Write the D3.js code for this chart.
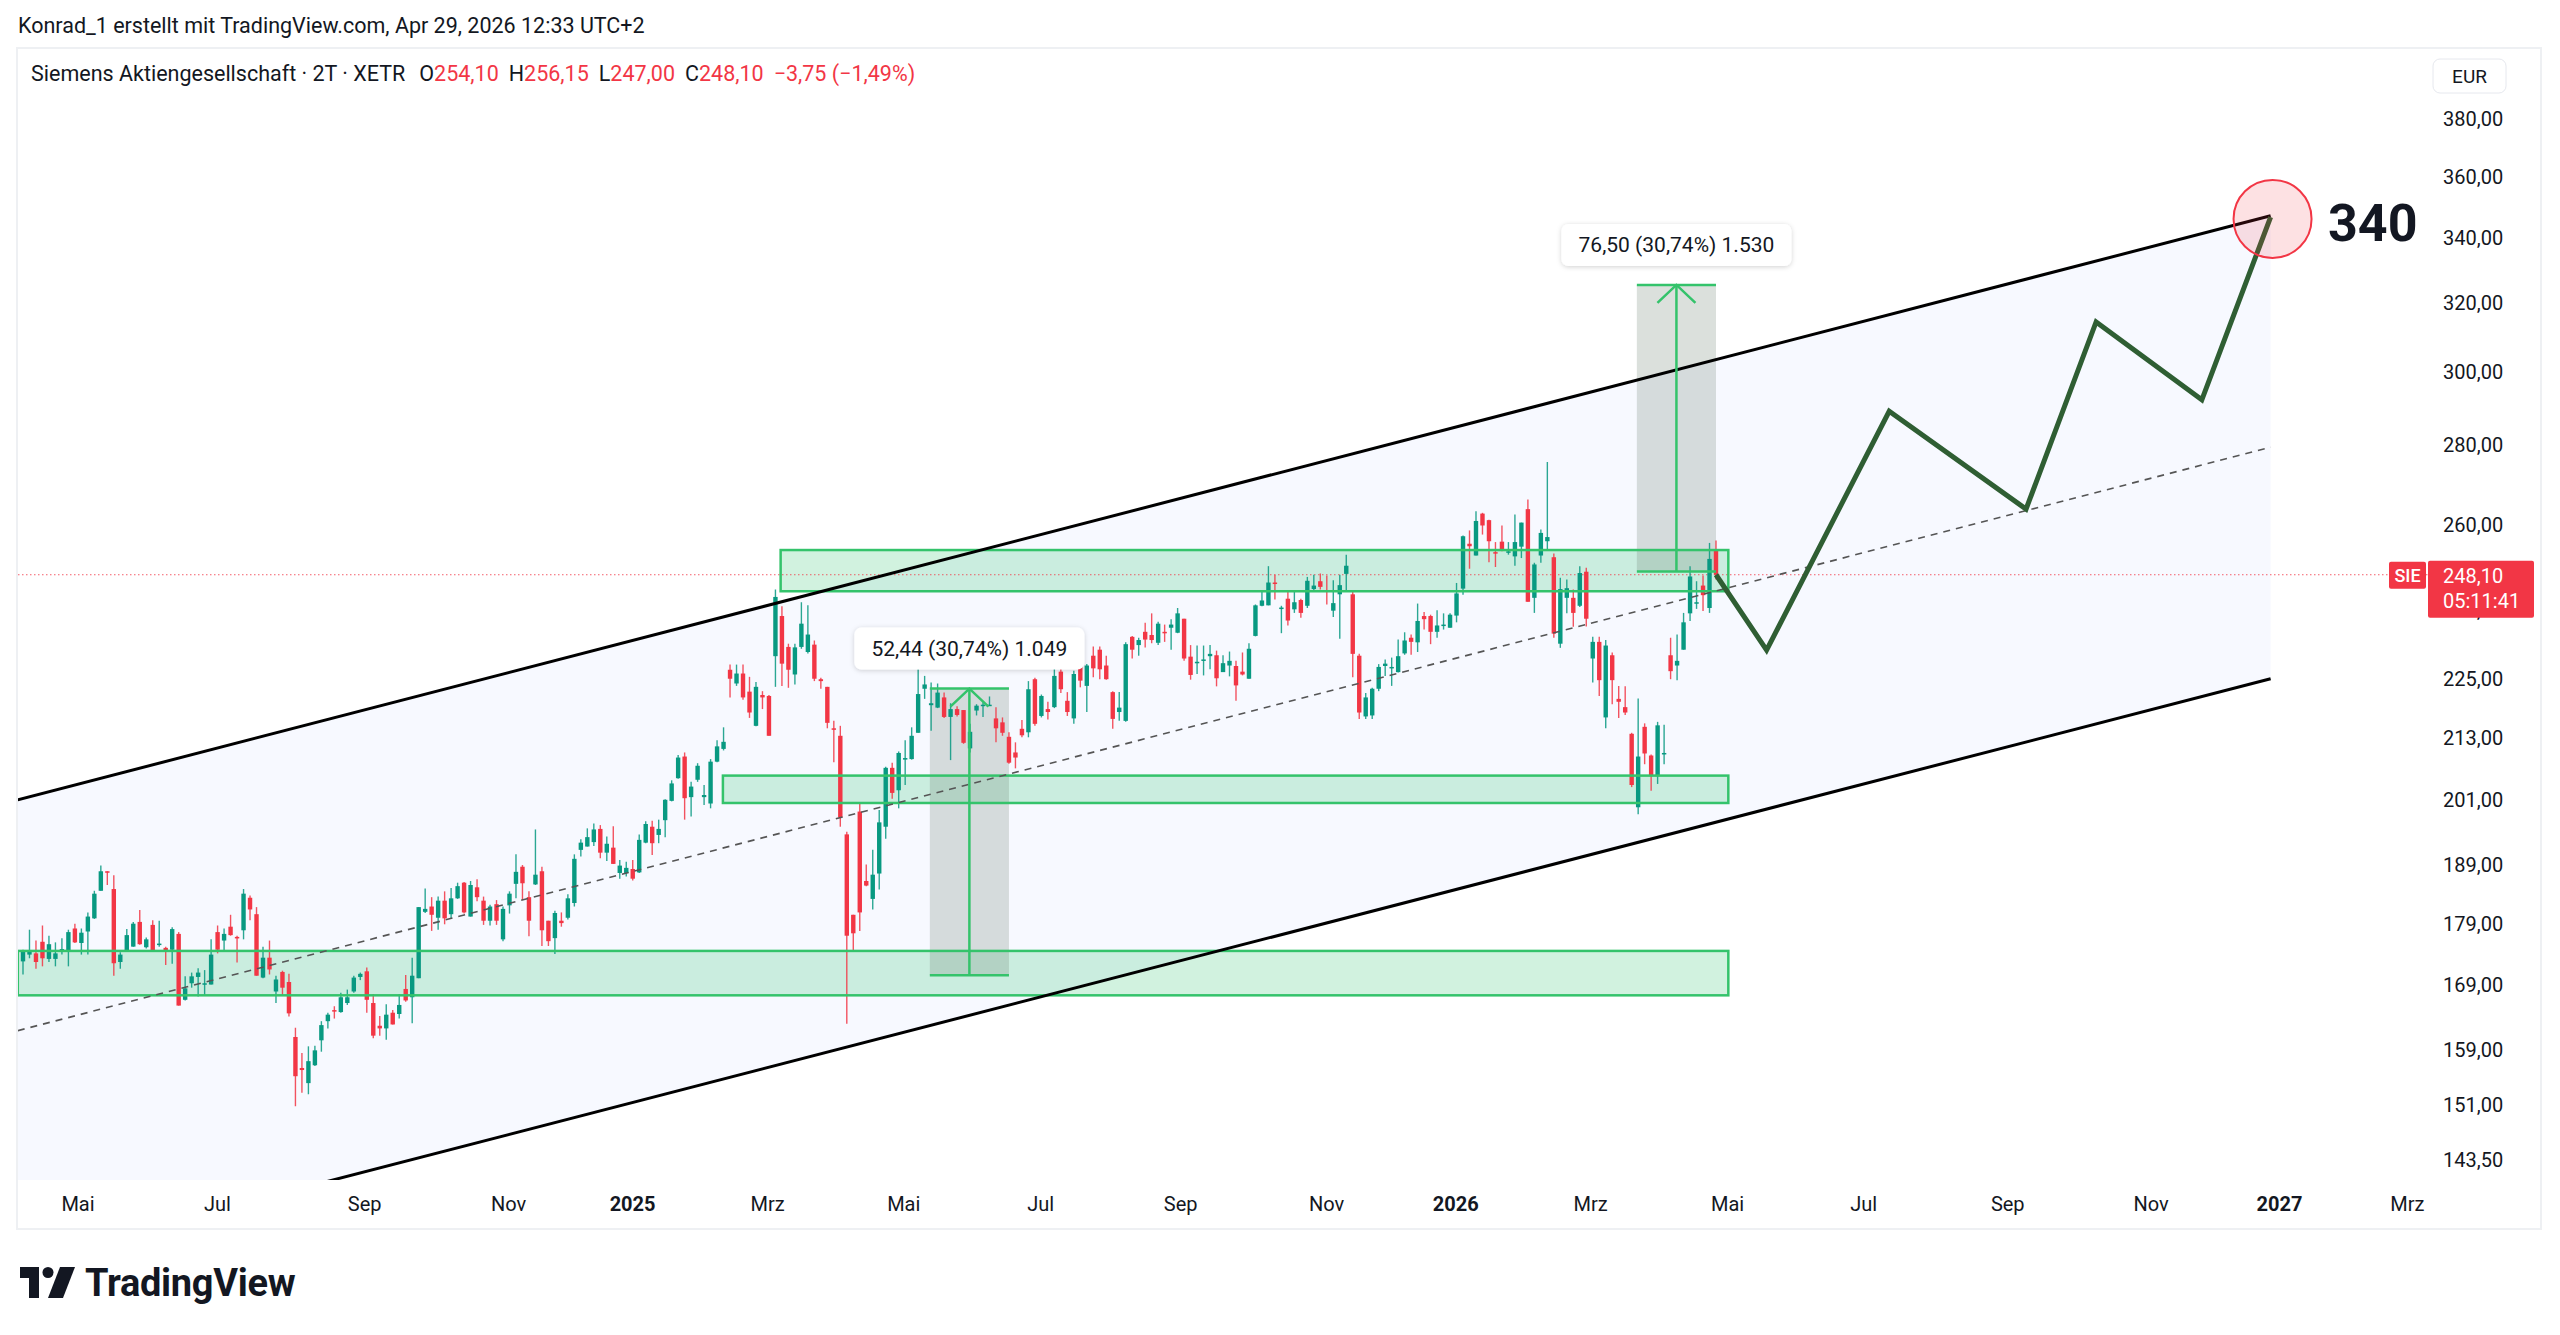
<!DOCTYPE html>
<html>
<head>
<meta charset="utf-8">
<script src="https://cdn.jsdelivr.net/npm/d3@7"></script>
<style>
  body { margin: 0; background: #ffffff; }
  svg text { font-family: Roboto, "Noto Sans", sans-serif; }
</style>
</head>
<body>
<svg id="chart" width="2560" height="1335"></svg>
<script>
// Siemens AG, 2-day candles (XETR)
const opens = [
  172.8, 173.9, 174.1, 176.0, 173.2, 173.2, 174.6, 174.6, 178.2, 175.8,
  177.7, 179.9, 184.6, 188.0, 184.9, 172.7, 174.4, 175.2, 179.3, 175.1,
  178.8, 175.5, 175.0, 174.7, 177.3, 166.7, 169.3, 170.3, 169.2, 169.1,
  177.6, 176.2, 178.5, 176.8, 177.9, 183.4, 180.6, 170.2, 173.4, 168.0,
  171.1, 169.5, 161.0, 156.4, 154.2, 156.8, 160.5, 163.4, 165.1, 164.8,
  166.2, 168.0, 170.3, 171.2, 166.2, 162.7, 162.3, 164.7, 164.5, 168.4,
  167.1, 170.1, 181.0, 181.9, 180.0, 182.9, 180.6, 183.3, 186.0, 180.2,
  185.2, 182.9, 179.5, 182.3, 176.4, 182.1, 185.8, 188.8, 183.5, 185.7,
  188.0, 179.5, 176.6, 179.5, 180.0, 182.5, 191.8, 192.4, 193.2, 195.6,
  191.3, 192.2, 187.7, 187.7, 188.4, 187.8, 193.1, 196.0, 194.5, 197.2,
  200.8, 205.1, 209.3, 201.5, 204.8, 201.5, 200.3, 208.3, 210.8, 227.0,
  224.1, 226.2, 222.4, 215.4, 221.7, 221.5, 229.9, 238.7, 231.9, 226.0,
  231.9, 230.8, 232.4, 225.0, 223.4, 214.9, 213.4, 194.6, 180.5, 198.8,
  186.3, 183.2, 187.6, 196.0, 207.1, 202.8, 208.7, 208.8, 214.0, 223.0,
  219.6, 219.1, 221.2, 217.2, 218.8, 218.6, 210.9, 218.5, 219.6, 219.6,
  216.9, 216.1, 213.2, 210.1, 214.8, 214.1, 225.0, 217.4, 218.8, 219.2,
  226.6, 220.5, 216.9, 228.0, 223.6, 230.0, 231.3, 227.9, 222.3, 218.2,
  216.4, 234.1, 232.3, 235.2, 234.5, 232.8, 235.2, 236.1, 235.0, 238.1,
  229.8, 228.6, 229.0, 229.9, 230.1, 226.5, 227.9, 227.8, 226.6, 225.1,
  234.3, 241.0, 241.1, 246.3, 240.5, 242.6, 240.2, 242.3, 241.0, 244.8,
  246.6, 244.5, 239.9, 243.6, 248.3, 243.6, 230.0, 217.3, 217.5, 223.0,
  227.8, 227.5, 226.5, 230.5, 233.9, 232.9, 238.7, 238.7, 235.2, 236.6,
  236.1, 238.8, 244.9, 255.4, 252.6, 262.7, 261.1, 253.4, 255.9, 253.5,
  252.4, 254.7, 263.8, 242.8, 252.6, 256.0, 252.2, 232.6, 242.8, 242.8,
  241.0, 248.8, 229.4, 233.0, 217.1, 230.1, 220.9, 219.2, 213.8, 199.6,
  215.2, 209.5, 205.5, 209.8, 230.1, 227.9, 231.3, 239.3, 241.6, 245.6,
  240.5, 254.1
];
const highs = [
  174.7, 178.0, 176.2, 178.7, 177.0, 175.9, 176.6, 178.0, 179.0, 178.2,
  180.9, 184.6, 189.0, 188.0, 187.3, 174.3, 178.1, 179.3, 181.3, 176.7,
  179.6, 179.5, 175.2, 178.4, 177.6, 170.4, 171.0, 171.7, 171.4, 176.4,
  178.7, 178.2, 180.5, 177.0, 184.9, 183.8, 181.8, 175.2, 176.2, 170.5,
  171.3, 170.8, 162.4, 158.6, 159.6, 159.7, 163.4, 164.7, 165.7, 167.8,
  168.3, 170.5, 171.0, 171.8, 167.6, 164.2, 166.0, 165.1, 167.6, 170.6,
  173.4, 181.8, 185.0, 183.5, 183.6, 184.5, 185.1, 186.0, 186.1, 186.3,
  186.6, 183.6, 182.2, 183.0, 181.9, 184.5, 191.0, 189.1, 184.5, 195.5,
  188.8, 179.5, 181.2, 180.9, 184.0, 191.0, 193.7, 195.7, 196.6, 196.3,
  194.2, 196.1, 190.0, 189.7, 190.0, 194.6, 197.0, 197.1, 197.3, 201.1,
  204.7, 209.6, 210.1, 204.4, 208.0, 203.8, 208.8, 212.5, 215.1, 228.1,
  228.1, 228.1, 225.5, 224.4, 222.5, 221.7, 244.7, 240.9, 232.6, 232.6,
  241.8, 241.1, 233.3, 225.3, 223.4, 216.4, 215.4, 195.1, 180.5, 200.3,
  189.2, 191.8, 199.1, 207.3, 208.1, 210.3, 212.5, 215.1, 227.1, 225.7,
  224.3, 224.1, 222.2, 220.0, 219.4, 218.6, 215.8, 219.8, 220.2, 221.4,
  219.2, 217.1, 214.1, 212.1, 216.6, 224.6, 225.3, 221.8, 220.3, 227.5,
  228.0, 222.3, 226.8, 228.8, 228.2, 232.0, 232.0, 230.0, 222.5, 222.3,
  232.9, 234.3, 233.9, 237.2, 239.3, 237.4, 236.8, 238.0, 240.5, 238.1,
  232.3, 232.2, 232.2, 232.3, 231.1, 230.1, 230.9, 228.9, 230.7, 232.7,
  241.3, 244.1, 250.1, 248.1, 241.0, 244.3, 244.5, 242.6, 247.6, 248.1,
  248.4, 247.9, 246.8, 248.1, 252.8, 244.3, 230.4, 222.1, 223.2, 228.2,
  229.2, 229.6, 233.5, 235.1, 234.6, 241.5, 239.6, 239.0, 240.0, 239.3,
  239.3, 246.2, 257.4, 258.6, 263.3, 262.9, 261.2, 255.8, 259.8, 255.8,
  262.5, 260.5, 266.2, 250.9, 258.8, 275.7, 253.1, 247.4, 247.0, 244.7,
  250.1, 249.7, 234.1, 234.1, 233.4, 230.7, 223.6, 223.5, 214.0, 221.0,
  215.9, 209.7, 216.2, 215.6, 233.9, 234.6, 239.4, 250.1, 246.6, 247.9,
  255.6, 256.15
];
const lows = [
  170.7, 173.3, 171.6, 172.0, 172.7, 172.0, 173.9, 172.0, 175.8, 173.9,
  173.9, 179.8, 184.6, 185.6, 170.5, 171.6, 174.4, 175.2, 175.5, 174.9,
  174.4, 175.2, 172.2, 172.4, 165.8, 166.6, 168.6, 167.2, 167.3, 169.1,
  174.1, 174.4, 177.0, 172.6, 176.4, 179.6, 170.5, 170.1, 170.7, 166.2,
  167.4, 164.1, 150.9, 152.8, 152.6, 156.7, 158.8, 162.3, 163.8, 164.7,
  165.9, 167.8, 169.8, 164.7, 160.8, 161.2, 160.6, 162.9, 163.8, 166.4,
  163.1, 170.1, 180.8, 177.8, 178.0, 178.9, 179.8, 183.2, 180.7, 180.2,
  182.8, 178.8, 178.7, 178.8, 176.1, 180.7, 183.3, 183.0, 176.9, 185.6,
  175.3, 175.3, 174.0, 178.5, 179.7, 181.9, 190.6, 192.4, 192.5, 190.3,
  189.8, 189.3, 186.7, 187.1, 186.4, 187.7, 193.0, 190.9, 193.0, 194.1,
  200.7, 205.0, 197.3, 197.9, 204.4, 200.0, 199.4, 208.2, 210.5, 221.2,
  223.6, 220.7, 217.0, 215.3, 218.8, 213.4, 223.4, 223.6, 223.2, 223.9,
  231.5, 230.5, 224.6, 223.0, 214.9, 208.2, 196.0, 163.0, 174.5, 177.8,
  185.4, 181.4, 184.8, 193.8, 201.2, 199.4, 203.8, 208.7, 214.0, 220.9,
  214.4, 219.0, 217.0, 208.6, 217.3, 211.8, 210.1, 217.5, 217.2, 219.5,
  212.1, 213.4, 207.9, 207.0, 213.1, 213.1, 215.4, 217.1, 216.7, 219.0,
  222.1, 217.4, 215.8, 223.3, 218.2, 225.4, 225.0, 224.9, 214.8, 216.4,
  216.2, 229.4, 230.0, 231.8, 232.7, 232.3, 233.0, 231.3, 234.9, 228.9,
  224.9, 226.1, 225.8, 227.1, 223.5, 226.5, 225.6, 220.5, 225.8, 225.1,
  234.2, 240.9, 241.1, 242.4, 234.9, 236.6, 239.4, 238.3, 240.5, 244.5,
  244.7, 241.3, 238.5, 233.7, 244.5, 225.4, 216.8, 216.8, 216.8, 222.5,
  225.7, 223.6, 226.4, 230.2, 230.2, 230.8, 235.7, 232.5, 233.9, 235.7,
  236.1, 237.3, 243.5, 249.5, 252.6, 257.6, 251.0, 249.9, 253.6, 252.8,
  250.2, 252.0, 241.9, 239.4, 250.9, 254.0, 233.9, 231.7, 239.3, 236.3,
  240.7, 236.4, 224.3, 221.5, 214.9, 219.8, 217.0, 217.6, 203.4, 198.3,
  207.8, 202.7, 204.0, 207.8, 225.0, 224.8, 231.3, 237.6, 240.3, 239.8,
  239.4, 247.0
];
const closes = [
  174.4, 174.4, 172.7, 173.3, 175.6, 174.1, 174.8, 177.6, 175.9, 177.5,
  180.2, 184.1, 188.0, 187.8, 172.5, 173.9, 177.1, 179.0, 175.6, 176.4,
  174.4, 175.7, 174.5, 178.1, 165.8, 168.5, 170.4, 171.0, 169.3, 173.9,
  174.7, 177.3, 177.1, 176.6, 184.1, 181.4, 170.5, 173.4, 171.5, 169.9,
  168.6, 164.6, 155.2, 156.1, 157.4, 159.0, 162.8, 164.4, 164.9, 167.1,
  167.1, 170.2, 170.8, 166.7, 161.2, 162.3, 164.4, 162.9, 165.9, 166.6,
  170.5, 181.8, 181.5, 180.5, 182.9, 179.9, 183.3, 185.4, 180.9, 185.6,
  183.5, 179.5, 181.9, 179.5, 181.5, 184.1, 187.9, 185.9, 179.5, 187.4,
  177.9, 176.1, 180.8, 179.1, 183.3, 190.2, 193.1, 194.1, 195.5, 191.3,
  192.9, 189.3, 189.0, 188.6, 186.7, 193.6, 196.5, 193.0, 195.6, 201.0,
  204.1, 209.1, 201.3, 203.5, 207.5, 201.9, 208.3, 211.3, 212.2, 225.1,
  226.2, 221.2, 218.1, 223.4, 221.2, 213.4, 243.0, 228.3, 227.0, 231.8,
  237.0, 234.6, 225.1, 224.6, 216.0, 214.6, 197.7, 177.0, 177.4, 180.9,
  185.5, 187.4, 196.8, 207.1, 202.3, 210.0, 209.0, 213.4, 221.9, 223.9,
  220.0, 222.2, 217.2, 218.8, 217.6, 212.0, 214.2, 219.5, 219.7, 219.7,
  214.9, 214.0, 208.1, 209.1, 213.5, 222.9, 215.8, 221.5, 218.2, 225.7,
  222.9, 218.2, 226.1, 224.7, 227.9, 227.3, 227.1, 225.0, 216.8, 219.1,
  232.5, 231.3, 233.4, 233.5, 233.4, 237.0, 234.9, 236.8, 239.3, 229.4,
  225.9, 228.7, 229.2, 230.4, 225.2, 228.4, 228.9, 223.7, 226.0, 231.5,
  241.1, 242.2, 246.3, 246.0, 240.6, 237.7, 241.8, 239.4, 246.7, 245.6,
  245.3, 244.2, 241.6, 245.7, 250.2, 230.4, 218.1, 221.2, 223.0, 227.6,
  228.3, 227.6, 229.9, 233.3, 233.0, 237.6, 238.0, 235.2, 236.6, 236.8,
  239.0, 243.8, 257.2, 254.8, 260.9, 259.8, 256.0, 253.1, 254.0, 253.6,
  255.8, 260.5, 241.9, 250.5, 258.0, 257.0, 234.8, 244.8, 245.0, 239.4,
  248.5, 238.1, 233.0, 224.8, 232.2, 224.8, 220.3, 218.1, 203.8, 209.3,
  209.9, 205.5, 215.5, 210.0, 226.7, 228.9, 237.3, 247.7, 241.8, 243.4,
  251.8, 248.1
];

// price axis and time axis
const priceTicks = [380, 360, 340, 320, 300, 280, 260, 240, 225, 213, 201, 189, 179, 169, 159, 151, 143.5];
const timeLabels = ["Mai", "Jul", "Sep", "Nov", "2025", "Mrz", "Mai", "Jul", "Sep", "Nov",
                    "2026", "Mrz", "Mai", "Jul", "Sep", "Nov", "2027", "Mrz"];
const timeBars = [8.4, 29.9, 52.6, 74.8, 93.9, 114.7, 135.7, 156.8, 178.4, 200.9,
                  220.8, 241.6, 262.7, 283.7, 305.9, 328.0, 347.8, 367.5];

// drawings: parallel channel (bar, price)
const channelBars = [-0.8, 346.5];
const channelUpper = [201.0, 347.1];
const channelLower = [130.5, 225.1];

// horizontal zones
const zoneFrom = [116.8, 107.9, -0.8];
const zoneTo = [262.9, 262.9, 262.9];
const zoneHigh = [253.9, 205.6, 174.5];
const zoneLow = [244.3, 200.4, 167.4];

// price range measurements
const measureFrom = [139.8, 248.8];
const measureTo = [152.0, 261.0];
const measureBase = [170.59, 248.86];
const measureTop = [223.03, 325.36];
const measureText = ["52,44 (30,74%) 1.049", "76,50 (30,74%) 1.530"];

// projected path
const pathBars = [261, 268.8, 287.7, 308.8, 319.6, 335.9, 346.5];
const pathPrices = [248.1, 231.2, 289.1, 263.8, 314.3, 292.2, 346.7];

const targetBar = 346.8, targetPrice = 346.1, targetText = "340";

const lastPrice = 248.10;

const up = '#089981', down = '#f23645', ink = '#131722', zoneGreen = '#34c36b';

const svg = d3.select('#chart');
const plot = { left: 18, right: 2428, top: 49, bottom: 1180 };

const x = d3.scaleLinear().domain([0, closes.length - 1]).range([23, 1716]);
const y = d3.scaleLog().domain([143.5, 380]).range([1160, 119]);
const fmt = v => d3.format('.2f')(v).replace('.', ',');

// defs
const defs = svg.append('defs');
defs.append('clipPath').attr('id', 'plotclip').append('rect')
  .attr('x', plot.left).attr('y', plot.top)
  .attr('width', plot.right - plot.left).attr('height', plot.bottom - plot.top);
const shadow = defs.append('filter').attr('id', 'shadow')
  .attr('x', '-20%').attr('y', '-40%').attr('width', '140%').attr('height', '180%');
shadow.append('feDropShadow').attr('dx', 0).attr('dy', 1).attr('stdDeviation', 2.5)
  .attr('flood-color', '#000').attr('flood-opacity', 0.18);

// header
svg.append('text').attr('x', 18).attr('y', 27).attr('dominant-baseline', 'middle')
  .attr('font-size', 21.5).attr('fill', ink)
  .text('Konrad_1 erstellt mit TradingView.com, Apr 29, 2026 12:33 UTC+2');

// chart frame
svg.append('rect').attr('x', 17).attr('y', 48).attr('width', 2524).attr('height', 1181)
  .attr('fill', '#fff').attr('stroke', '#eef0f3').attr('stroke-width', 2);

const gPlot = svg.append('g').attr('clip-path', 'url(#plotclip)');

// channel fill
const chanArea = d3.area()
  .x(i => x(channelBars[i]))
  .y0(i => y(channelLower[i]))
  .y1(i => y(channelUpper[i]));
gPlot.append('path').datum([0, 1]).attr('d', chanArea).attr('fill', 'rgba(41,98,255,0.035)');

// zones fill
gPlot.selectAll('rect.zone').data(d3.range(zoneFrom.length)).join('rect')
  .attr('class', 'zone')
  .attr('x', i => x(zoneFrom[i])).attr('width', i => x(zoneTo[i]) - x(zoneFrom[i]))
  .attr('y', i => y(zoneHigh[i])).attr('height', i => y(zoneLow[i]) - y(zoneHigh[i]))
  .attr('fill', 'rgba(46,196,110,0.22)');

// measurement boxes fill
gPlot.selectAll('rect.measure').data(d3.range(measureFrom.length)).join('rect')
  .attr('class', 'measure')
  .attr('x', i => x(measureFrom[i])).attr('width', i => x(measureTo[i]) - x(measureFrom[i]))
  .attr('y', i => y(measureTop[i])).attr('height', i => y(measureBase[i]) - y(measureTop[i]))
  .attr('fill', 'rgba(110,130,115,0.25)');

// current price line
gPlot.append('line').attr('x1', plot.left).attr('x2', plot.right)
  .attr('y1', y(lastPrice)).attr('y2', y(lastPrice))
  .attr('stroke', down).attr('stroke-width', 1).attr('stroke-dasharray', '1.5,2.5').attr('opacity', 0.8);

// candles
const bars = d3.range(closes.length);
const gCandles = gPlot.append('g');
const colorOf = i => closes[i] >= opens[i] ? up : down;
gCandles.selectAll('line').data(bars).join('line')
  .attr('x1', i => x(i)).attr('x2', i => x(i))
  .attr('y1', i => y(highs[i])).attr('y2', i => y(lows[i]))
  .attr('stroke', colorOf).attr('stroke-width', 1.4).attr('opacity', 0.85);
gCandles.selectAll('rect').data(bars).join('rect')
  .attr('x', i => x(i) - 2.2).attr('width', 4.4)
  .attr('y', i => y(Math.max(opens[i], closes[i])))
  .attr('height', i => Math.max(1.5, y(Math.min(opens[i], closes[i])) - y(Math.max(opens[i], closes[i]))))
  .attr('fill', colorOf);

// zone outlines
gPlot.selectAll('rect.zoneline').data(d3.range(zoneFrom.length)).join('rect')
  .attr('class', 'zoneline')
  .attr('x', i => x(zoneFrom[i])).attr('width', i => x(zoneTo[i]) - x(zoneFrom[i]))
  .attr('y', i => y(zoneHigh[i])).attr('height', i => y(zoneLow[i]) - y(zoneHigh[i]))
  .attr('fill', 'none').attr('stroke', zoneGreen).attr('stroke-width', 2.5);

// channel lines
const chanLine = arr => d3.line().x(i => x(channelBars[i])).y(i => y(arr[i]))([0, 1]);
gPlot.append('path').attr('d', chanLine(channelUpper)).attr('stroke', '#000').attr('stroke-width', 3).attr('fill', 'none');
gPlot.append('path').attr('d', chanLine(channelLower)).attr('stroke', '#000').attr('stroke-width', 3).attr('fill', 'none');
const channelMid = channelUpper.map((u, i) => Math.sqrt(u * channelLower[i]));
gPlot.append('path').attr('d', chanLine(channelMid)).attr('stroke', '#555').attr('stroke-width', 1.6)
  .attr('stroke-dasharray', '7,6').attr('fill', 'none');

// measurements: lines, arrows, labels
measureFrom.forEach((f, i) => {
  const g = gPlot.append('g').attr('stroke', zoneGreen).attr('stroke-width', 2.5).attr('fill', 'none');
  const xc = (x(f) + x(measureTo[i])) / 2;
  const yt = y(measureTop[i]), yb = y(measureBase[i]);
  g.append('line').attr('x1', x(f)).attr('x2', x(measureTo[i])).attr('y1', yt).attr('y2', yt);
  g.append('line').attr('x1', x(f)).attr('x2', x(measureTo[i])).attr('y1', yb).attr('y2', yb);
  g.append('line').attr('x1', xc).attr('x2', xc).attr('y1', yt).attr('y2', yb);
  g.append('path').attr('d', `M${xc - 19},${yt + 18}L${xc},${yt}L${xc + 19},${yt + 18}`);

  const lbl = svg.append('g');
  const bw = 230, bh = 42;
  lbl.append('rect').attr('x', xc - bw / 2).attr('y', yt - 19 - bh).attr('width', bw).attr('height', bh)
    .attr('rx', 7).attr('fill', '#fff').attr('filter', 'url(#shadow)');
  lbl.append('text').attr('x', xc).attr('y', yt - 19 - bh / 2).attr('text-anchor', 'middle')
    .attr('dominant-baseline', 'central').attr('font-size', 21).attr('fill', ink).text(measureText[i]);
});

// projected path
gPlot.append('path')
  .attr('d', d3.line().x(i => x(pathBars[i])).y(i => y(pathPrices[i]))(d3.range(pathBars.length)))
  .attr('fill', 'none').attr('stroke', '#2f5e33').attr('stroke-width', 5)
  .attr('stroke-linejoin', 'miter').attr('stroke-linecap', 'butt');

// target circle and label
gPlot.append('circle').attr('cx', x(targetBar)).attr('cy', y(targetPrice)).attr('r', 39)
  .attr('fill', 'rgba(242,54,69,0.15)').attr('stroke', down).attr('stroke-width', 2);
svg.append('text').attr('x', 2328).attr('y', y(targetPrice) + 5).attr('dominant-baseline', 'central')
  .attr('font-size', 52).attr('font-weight', 700).attr('fill', ink).text(targetText);

// legend
const legend = svg.append('text').attr('x', 31).attr('y', 75).attr('dominant-baseline', 'middle')
  .attr('font-size', 21.5).attr('fill', ink);
legend.append('tspan').text('Siemens Aktiengesellschaft · 2T · XETR');
[['O', '254,10'], ['H', '256,15'], ['L', '247,00'], ['C', '248,10']].forEach(([k, v], i) => {
  legend.append('tspan').attr('dx', i === 0 ? 14 : 10).text(k);
  legend.append('tspan').attr('fill', down).text(v);
});
legend.append('tspan').attr('dx', 10).attr('fill', down).text('−3,75 (−1,49%)');

// price axis
const gY = svg.append('g').attr('transform', 'translate(2443,0)')
  .call(d3.axisRight(y).tickValues(priceTicks).tickSize(0).tickPadding(0).tickFormat(fmt));
gY.select('.domain').remove();
gY.selectAll('text').attr('font-size', 20).attr('font-family', 'Roboto, sans-serif').attr('fill', ink);

// time axis
const gX = svg.append('g').attr('transform', `translate(0,${plot.bottom})`)
  .call(d3.axisBottom(x).tickValues(timeBars).tickSize(0).tickPadding(17)
    .tickFormat((d, i) => timeLabels[i]));
gX.select('.domain').remove();
gX.selectAll('text').attr('font-size', 20).attr('font-family', 'Roboto, sans-serif').attr('fill', ink)
  .attr('font-weight', (d, i) => /^\d{4}$/.test(timeLabels[i]) ? 700 : 400);

// EUR box
svg.append('rect').attr('x', 2433).attr('y', 59).attr('width', 73).attr('height', 34).attr('rx', 7)
  .attr('fill', '#fff').attr('stroke', '#e6e8ee');
svg.append('text').attr('x', 2469.5).attr('y', 76).attr('text-anchor', 'middle')
  .attr('dominant-baseline', 'central').attr('font-size', 19).attr('fill', ink).text('EUR');

// last price label (covers the 240 tick as in the original)
const yl = y(lastPrice);
svg.append('rect').attr('x', 2389).attr('y', yl - 13).attr('width', 37).attr('height', 27).attr('rx', 2).attr('fill', down);
svg.append('text').attr('x', 2407.5).attr('y', yl + 1).attr('text-anchor', 'middle').attr('dominant-baseline', 'central')
  .attr('font-size', 18).attr('font-weight', 500).attr('fill', '#fff').text('SIE');
svg.append('rect').attr('x', 2428).attr('y', yl - 14).attr('width', 106).attr('height', 57).attr('rx', 2).attr('fill', down);
svg.append('text').attr('x', 2443).attr('y', yl + 1).attr('dominant-baseline', 'central')
  .attr('font-size', 20).attr('fill', '#fff').text(fmt(lastPrice));
svg.append('text').attr('x', 2443).attr('y', yl + 26).attr('dominant-baseline', 'central')
  .attr('font-size', 20).attr('fill', '#fff').text('05:11:41');

// TradingView logo
const logo = svg.append('g').attr('transform', 'translate(20,1267)').attr('fill', ink);
logo.append('path').attr('d', 'M0,0H19V31H9V11H0Z');
logo.append('circle').attr('cx', 28).attr('cy', 5.5).attr('r', 5.5);
logo.append('path').attr('d', 'M40,0H55L43,31H28Z');
svg.append('text').attr('x', 85).attr('y', 1283).attr('dominant-baseline', 'central')
  .attr('font-size', 38).attr('font-weight', 700).attr('fill', ink).attr('letter-spacing', -0.3).text('TradingView');
</script>
</body>
</html>
